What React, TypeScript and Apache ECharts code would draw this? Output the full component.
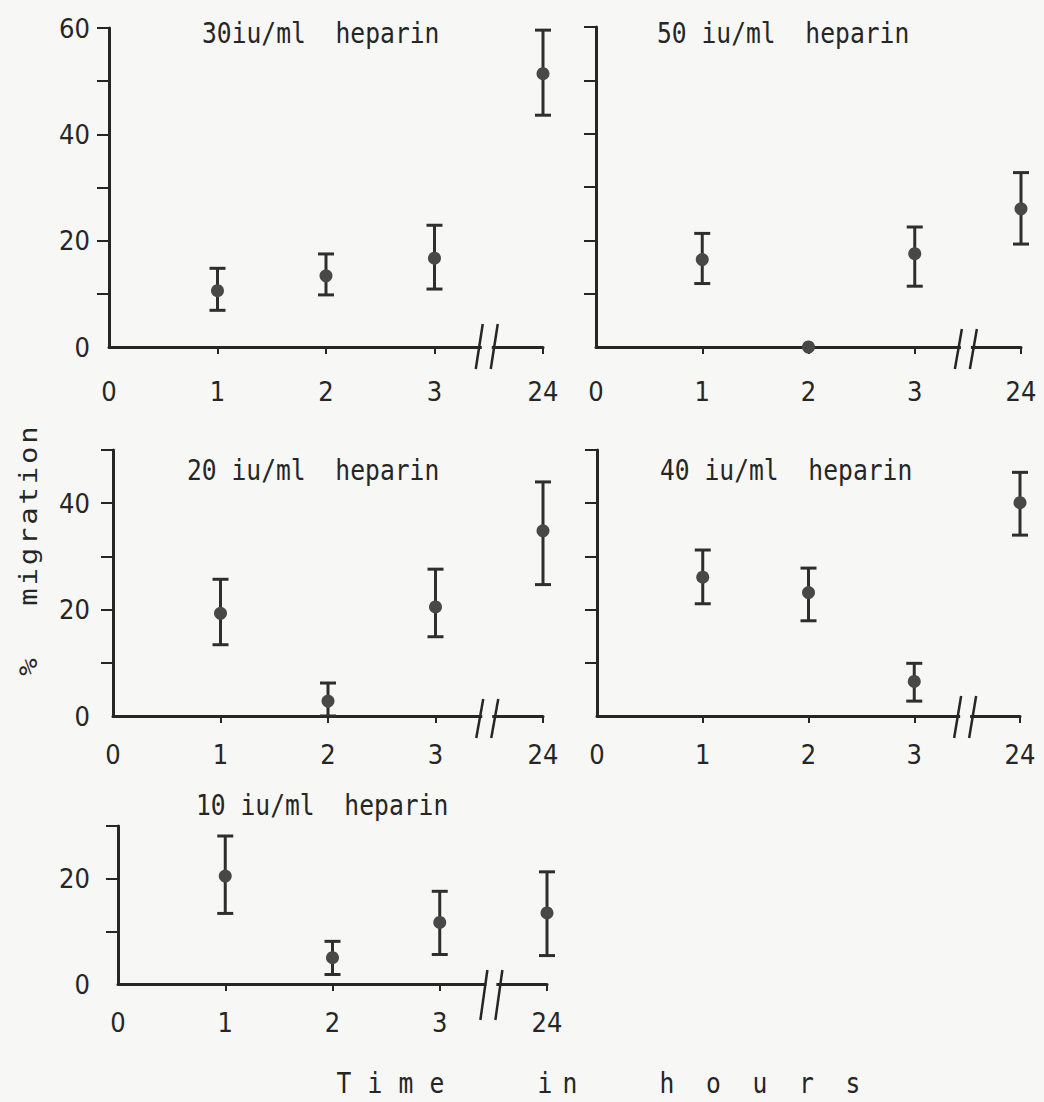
import React, { useEffect, useRef } from 'react';
import * as echarts from 'echarts';

// ---------- data ----------
const xTickLabels = ['0', '1', '2', '3', '24'];
const hourPositions = [1, 2, 3, 4]; // axis positions of 1 h, 2 h, 3 h, 24 h (broken axis)

const titles = ['30iu/ml  heparin', '50 iu/ml  heparin', '20 iu/ml  heparin', '40 iu/ml  heparin', '10 iu/ml  heparin'];
const yMaxes = [60, 60, 50, 50, 30];
const yLabelValues = [[0, 20, 40, 60], [], [0, 20, 40], [], [0, 20]];

// 30 iu/ml
const mean30 = [10.6, 13.4, 16.7, 51.4];
const high30 = [14.8, 17.5, 22.9, 59.6];
const low30 = [6.9, 9.8, 10.9, 43.6];
// 50 iu/ml
const mean50 = [16.4, 0, 17.5, 25.9];
const high50 = [21.3, 0, 22.5, 32.7];
const low50 = [11.9, 0, 11.4, 19.3];
// 20 iu/ml
const mean20 = [19.3, 2.8, 20.5, 34.8];
const high20 = [25.7, 6.2, 27.6, 44.0];
const low20 = [13.4, 0, 14.9, 24.7];
// 40 iu/ml
const mean40 = [26.1, 23.2, 6.5, 40.1];
const high40 = [31.2, 27.8, 9.9, 45.8];
const low40 = [21.1, 17.9, 2.8, 34.0];
// 10 iu/ml
const mean10 = [20.5, 5.0, 11.7, 13.5];
const high10 = [28.1, 8.1, 17.6, 21.3];
const low10 = [13.4, 1.8, 5.6, 5.4];

const means = [mean30, mean50, mean20, mean40, mean10];
const highs = [high30, high50, high20, high40, high10];
const lows = [low30, low50, low20, low40, low10];

const breakAt = 3.5;
const yAxisTitle = '% migration';
const xAxisTitleWords = ['Time', 'in', 'hours'];

// ---------- layout / style ----------
const W = 1044;
const H = 1102;
const BG = '#f7f7f5';
const INK = '#262626';
const MONO = '"DejaVu Sans Mono", "Liberation Mono", monospace';
const LABEL_FONT = '"DejaVu Sans Condensed", "Liberation Sans Narrow", "DejaVu Sans Mono", sans-serif';
const LABEL_FS = 27;
const TEXT_FS = 29;
const TEXT_SCALE_X = 0.85;

const grids = [
  { left: 109, top: 28, width: 434, height: 319 },
  { left: 596, top: 27, width: 425, height: 320 },
  { left: 113, top: 450, width: 430, height: 266 },
  { left: 597, top: 450, width: 423, height: 266 },
  { left: 118, top: 826, width: 429, height: 158 },
];
const titlePos = [
  [202, 33], [657, 33], [187, 470], [660, 470], [196, 805],
];
const xLabelMargin = [31, 31, 25, 25, 25];
const yLabelMargin = [19, 19, 23, 23, 28];
const breakExtent = [[23, 22], [18, 22], [17, 22], [20, 22], [14, 36]]; // [up, down]

const xWordStarts = [344, 545, 667];
const xWordSteps = [31, 25, 46.5];
const xTitleY = 1083;
const yTitleX = 28;
const yPercentY = 667;
const yWordStart = 597;
const yWordStep = 20.25;

function textEl(x: number, y: number, text: string, align: string, rotation = 0) {
  return {
    type: 'text',
    x,
    y,
    rotation,
    scaleX: rotation ? 1 : TEXT_SCALE_X,
    scaleY: rotation ? TEXT_SCALE_X : 1,
    style: {
      text,
      fontFamily: MONO,
      fontSize: TEXT_FS,
      fill: INK,
      align,
      verticalAlign: 'middle',
    },
  };
}

function buildOption() {
  const xAxis: any[] = [];
  const yAxis: any[] = [];
  const series: any[] = [];
  const graphic: any[] = [];

  grids.forEach((g, i) => {
    xAxis.push({
      gridIndex: i,
      type: 'value',
      min: 0,
      max: 4,
      interval: 1,
      axisLine: { show: true, onZero: false, lineStyle: { color: INK, width: 3 } },
      axisTick: { show: true, customValues: hourPositions, length: 7, lineStyle: { color: INK, width: 2 } },
      axisLabel: {
        show: true,
        customValues: [0, 1, 2, 3, 4],
        formatter: (v: number) => xTickLabels[Math.round(v)],
        margin: xLabelMargin[i],
        fontFamily: LABEL_FONT,
        fontSize: LABEL_FS,
        color: INK,
      },
      splitLine: { show: false },
    });
    const ticks: number[] = [];
    for (let v = 10; v <= yMaxes[i]; v += 10) ticks.push(v);
    yAxis.push({
      gridIndex: i,
      type: 'value',
      min: 0,
      max: yMaxes[i],
      interval: 10,
      axisLine: { show: true, onZero: false, lineStyle: { color: INK, width: 3 } },
      axisTick: { show: true, customValues: ticks, length: 12, lineStyle: { color: INK, width: 2 } },
      axisLabel: {
        show: yLabelValues[i].length > 0,
        customValues: yLabelValues[i],
        margin: yLabelMargin[i],
        fontFamily: LABEL_FONT,
        fontSize: LABEL_FS,
        color: INK,
      },
      splitLine: { show: false },
    });

    series.push({
      type: 'custom',
      xAxisIndex: i,
      yAxisIndex: i,
      clip: false,
      silent: true,
      encode: { x: 0, y: [1, 2] },
      data: hourPositions.map((x, j) => [x, lows[i][j], highs[i][j]]),
      renderItem: (params: any, api: any) => {
        const x = api.value(0);
        const lo = api.value(1);
        const hi = api.value(2);
        if (hi - lo <= 0) return { type: 'group', children: [] };
        const a = api.coord([x, hi]);
        const b = api.coord([x, lo]);
        const w = 8;
        const style = { stroke: '#2e2e2e', lineWidth: 3 };
        return {
          type: 'group',
          children: [
            { type: 'line', shape: { x1: a[0], y1: a[1], x2: b[0], y2: b[1] }, style },
            { type: 'line', shape: { x1: a[0] - w, y1: a[1], x2: a[0] + w, y2: a[1] }, style },
            { type: 'line', shape: { x1: b[0] - w, y1: b[1], x2: b[0] + w, y2: b[1] }, style },
          ],
        };
      },
      z: 2,
    });

    series.push({
      type: 'scatter',
      xAxisIndex: i,
      yAxisIndex: i,
      symbol: 'circle',
      symbolSize: 13,
      itemStyle: { color: '#484848', opacity: 1 },
      data: hourPositions.map((x, j) => [x, means[i][j]]),
      z: 3,
    });

    const [up, down] = breakExtent[i];
    series.push({
      type: 'custom',
      xAxisIndex: i,
      yAxisIndex: i,
      clip: false,
      silent: true,
      data: [[breakAt, 0]],
      renderItem: (params: any, api: any) => {
        const c = api.coord([api.value(0), api.value(1)]);
        const style = { stroke: INK, lineWidth: 2.5 };
        return {
          type: 'group',
          children: [
            { type: 'rect', shape: { x: c[0] - 7, y: c[1] - 4, width: 10, height: 8 }, style: { fill: BG } },
            { type: 'line', shape: { x1: c[0] - 13, y1: c[1] + down, x2: c[0] - 6, y2: c[1] - up }, style },
            { type: 'line', shape: { x1: c[0] + 2, y1: c[1] + down, x2: c[0] + 9, y2: c[1] - up }, style },
          ],
        };
      },
      z: 4,
    });

    graphic.push(textEl(titlePos[i][0], titlePos[i][1], titles[i], 'left'));
  });

  // x-axis title, letter-spaced
  xAxisTitleWords.forEach((word, wi) => {
    word.split('').forEach((ch, k) => {
      graphic.push(textEl(xWordStarts[wi] + k * xWordSteps[wi], xTitleY, ch, 'center'));
    });
  });

  // y-axis title, rotated and letter-spaced
  const [pct, word] = yAxisTitle.split(' ');
  graphic.push(textEl(yTitleX, yPercentY, pct, 'center', Math.PI / 2));
  word.split('').forEach((ch, k) => {
    graphic.push(textEl(yTitleX, yWordStart - k * yWordStep, ch, 'center', Math.PI / 2));
  });

  return {
    animation: false,
    backgroundColor: BG,
    grid: grids.map((g) => ({ ...g, containLabel: false })),
    xAxis,
    yAxis,
    series,
    graphic,
  };
}

export default function App() {
  const ref = useRef<HTMLDivElement>(null);
  useEffect(() => {
    if (!ref.current) return;
    const chart = echarts.init(ref.current, undefined, { renderer: 'svg' });
    chart.setOption(buildOption() as any);
    return () => chart.dispose();
  }, []);
  return (
    <div
      ref={ref}
      style={{ position: 'absolute', left: 0, top: 0, width: W, height: H, background: BG }}
    />
  );
}
